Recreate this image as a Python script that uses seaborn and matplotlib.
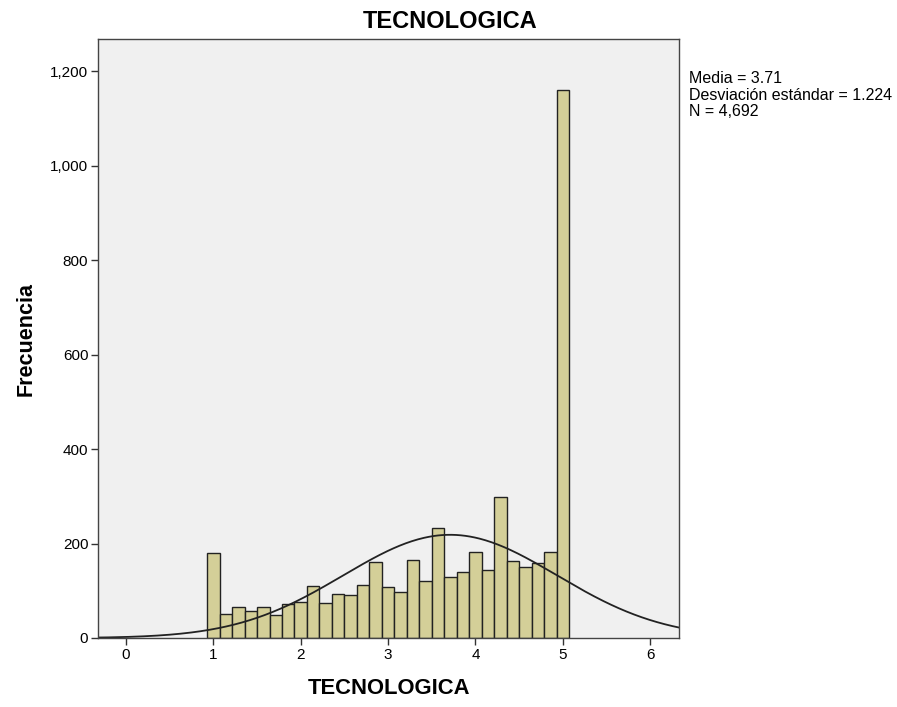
import numpy as np
import pandas as pd
import matplotlib
matplotlib.use("Agg")
import matplotlib.pyplot as plt
import seaborn as sns
from matplotlib.ticker import FuncFormatter

# Bin centres (1 .. 5 in steps of 1/7) and counts
bin_centers = [1 + k / 7 for k in range(29)]
counts = [179, 51, 65, 58, 65, 49, 73, 77, 110, 75, 93, 92, 112, 160, 109,
          98, 166, 121, 232, 130, 139, 181, 144, 298, 162, 151, 158, 183, 1161]
mean_val = 3.71
sd_val = 1.224
n_val = 4692
x_ticks = [0, 1, 2, 3, 4, 5, 6]
y_ticks = [0, 200, 400, 600, 800, 1000, 1200]

df = pd.DataFrame({"TECNOLOGICA": bin_centers, "w": counts})
bw = 1 / 7
lo = bin_centers[0] - bw / 2
hi = bin_centers[-1] + bw / 2

sns.set_style("white")
plt.rcParams["font.family"] = ["Liberation Sans", "DejaVu Sans"]
plt.rcParams["text.color"] = "black"
plt.rcParams["axes.labelcolor"] = "black"
plt.rcParams["xtick.color"] = "black"
plt.rcParams["ytick.color"] = "black"

fig = plt.figure(figsize=(8.97, 7.07), dpi=100)
ax = fig.add_axes([0.1093, 0.0976, 0.6477, 0.8472])
ax.set_facecolor("#F0F0F0")

sns.histplot(data=df, x="TECNOLOGICA", weights="w", binwidth=bw, binrange=(lo, hi), ax=ax,
             color="#D4CF98", edgecolor="#222222", linewidth=1.0, alpha=1.0)

xs = np.linspace(-0.5, 6.5, 400)
ys = n_val * bw / (sd_val * np.sqrt(2 * np.pi)) * np.exp(-0.5 * ((xs - mean_val) / sd_val) ** 2)
sns.lineplot(x=xs, y=ys, ax=ax, color="#222222", linewidth=1.3)

ax.set_xlim(-0.32, 6.33)
ax.set_ylim(0, 1268)
ax.set_xticks(x_ticks)
ax.set_yticks(y_ticks)
ax.yaxis.set_major_formatter(FuncFormatter(lambda v, p: f"{int(v):,}"))
ax.tick_params(axis="both", direction="out", length=5, width=1, color="#333333",
               labelcolor="black", labelsize=11, bottom=True, left=True, pad=2)
for s in ax.spines.values():
    s.set_color("#444444")
    s.set_linewidth(1.0)

ax.set_xlabel("TECNOLOGICA", fontsize=15.8, fontweight="bold", labelpad=12, color="black")
ax.set_ylabel("Frecuencia", fontsize=15.5, fontweight="bold", labelpad=10, color="black")
fig.text(0.5017, 0.969, "TECNOLOGICA", ha="center", va="center", fontsize=17,
         fontweight="bold", color="black")

fig.text(0.768, 0.899, f"Media = {mean_val:.2f}\nDesviación estándar = {sd_val:.3f}\nN = {n_val:,}",
         ha="left", va="top", fontsize=11.5, linespacing=1.12, color="black")

fig.savefig("out.png", dpi=100)
